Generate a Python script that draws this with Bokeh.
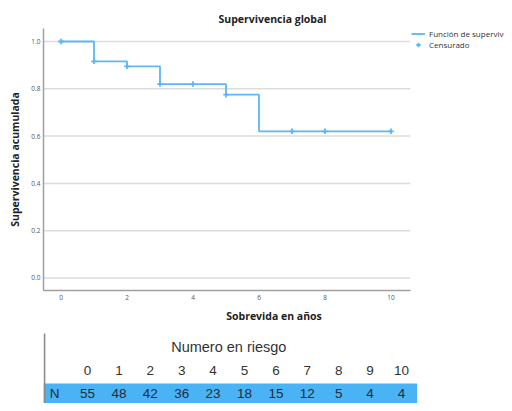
from bokeh.plotting import figure
from bokeh.layouts import column
from bokeh.models import Range1d, FixedTicker, Legend, LegendItem, PrintfTickFormatter
from bokeh.core.properties import value
from bokeh.embed import file_html
from bokeh.resources import INLINE

# ---- data ----
step_times = [0, 1, 2, 3, 5, 6, 10]
step_surv = [1.0, 0.916, 0.895, 0.82, 0.775, 0.62, 0.62]
cens_times = [0, 1, 2, 3, 4, 5, 7, 8, 10]
cens_surv = [1.0, 0.916, 0.895, 0.82, 0.82, 0.775, 0.62, 0.62, 0.62]
x_ticks = [0, 2, 4, 6, 8, 10]
y_ticks = [0.0, 0.2, 0.4, 0.6, 0.8, 1.0]
risk_times = [0, 1, 2, 3, 4, 5, 6, 7, 8, 9, 10]
risk_n = [55, 48, 42, 36, 23, 18, 15, 12, 5, 4, 4]

LINE = "#5cb7f2"
BAND = "#4ab3f6"
FONT = "Open Sans"
TFONT = "Liberation Sans"

W = 504
LB = 43
X0, X1 = -0.53, 10.58          # visible axis extent (years)
XEND = X0 + (W - LB) / 33.0     # frame runs to the canvas edge

p = figure(width=W, height=325, x_range=Range1d(X0, XEND), y_range=Range1d(-0.053, 1.055),
           min_border_left=LB, min_border_right=0, min_border_top=28, min_border_bottom=35,
           output_backend="svg", toolbar_location=None, title="Supervivencia global")
p.outline_line_color = None
p.background_fill_color = "white"
p.border_fill_color = "white"

p.title.text_font = FONT
p.title.text_font_size = "10.5px"
p.title.text_font_style = "bold"
p.title.text_color = "#222222"
p.title.align = "left"
p.title.offset = 175
p.title.standoff = 6

for ax in (p.xaxis[0], p.yaxis[0]):
    ax.axis_line_color = "#a0a0a0"
    ax.axis_line_width = 1.5
    ax.major_tick_line_color = None
    ax.minor_tick_line_color = None
    ax.major_tick_out = 0
    ax.major_tick_in = 0
    ax.minor_tick_out = 0
    ax.minor_tick_in = 0
    ax.major_label_text_font = FONT
    ax.major_label_text_font_size = "6.5px"
    ax.major_label_text_color = "#555555"
    ax.axis_label_text_font = FONT
    ax.axis_label_text_font_size = "10.5px"
    ax.axis_label_text_font_style = "bold"
    ax.axis_label_text_color = "#222222"

p.xaxis.bounds = (X0, X1)
p.xaxis.ticker = FixedTicker(ticks=x_ticks)
p.yaxis.ticker = FixedTicker(ticks=y_ticks)
p.yaxis.formatter = PrintfTickFormatter(format="%.1f")
p.xaxis.axis_label = "Sobrevida en años"
p.yaxis.axis_label = "Supervivencia acumulada"
p.xaxis.major_label_standoff = 4
p.yaxis.major_label_standoff = 3
p.xaxis.axis_label_standoff = 6
p.yaxis.axis_label_standoff = 6

p.grid.grid_line_color = None
p.segment(x0=[X0] * len(y_ticks), y0=y_ticks, x1=[X1] * len(y_ticks), y1=y_ticks,
          line_color="#dcdcdc", line_width=1.5)

r_step = p.step(step_times, step_surv, mode="after", line_color=LINE, line_width=1.8)
r_cens = p.scatter(cens_times, cens_surv, marker="cross", size=5.5, line_color=LINE, line_width=1.8)

legend = Legend(items=[LegendItem(label="Función de supervivencia", renderers=[r_step]),
                       LegendItem(label="Censurado", renderers=[r_cens])],
                location=(368, 240), padding=0, spacing=0, margin=0,
                glyph_width=14, glyph_height=11, label_height=11, label_standoff=4,
                label_text_font=FONT, label_text_font_size="8px", label_text_color="#333333",
                border_line_color=None, background_fill_alpha=0)
p.add_layout(legend)

# ---- risk table ----
PX = 31.4
TX0 = (43 - 87) / PX
TX1 = TX0 + (W - LB) / PX
YB, YT = -0.408, 2.940
t = figure(width=W, height=78, x_range=Range1d(TX0, TX1), y_range=Range1d(YB, YT),
           min_border_left=LB, min_border_right=0, min_border_top=0, min_border_bottom=0,
           output_backend="svg", toolbar_location=None)
t.axis.visible = False
t.grid.visible = False
t.outline_line_color = None
t.border_fill_color = "white"

t.quad(left=[TX0], right=[10.5], bottom=[YB], top=[0.451], fill_color=BAND, line_color=None)
t.segment(x0=[TX0 + 0.03], y0=[YB], x1=[TX0 + 0.03], y1=[2.597], line_color="#8a8a8a", line_width=1.8)
t.text(x=[4.5], y=[2], text=["Numero en riesgo"], text_font=value(TFONT), text_font_size="14.5px",
       text_color="#333333", text_align="center", text_baseline="middle")
t.text(x=risk_times, y=[1] * len(risk_times), text=[str(v) for v in risk_times], text_font=value(TFONT),
       text_font_size="13.5px", text_color="#333333", text_align="center", text_baseline="middle")
t.text(x=[-1.05], y=[0], text=["N"], text_font=value(TFONT), text_font_size="13.5px",
       text_color="#1f2a35", text_align="center", text_baseline="middle")
t.text(x=risk_times, y=[0] * len(risk_times), text=[str(v) for v in risk_n], text_font=value(TFONT),
       text_font_size="13.5px", text_color="#1f2a35", text_align="center", text_baseline="middle")

layout = column(p, t, spacing=0)
open("out.html", "w").write(file_html(layout, INLINE))
